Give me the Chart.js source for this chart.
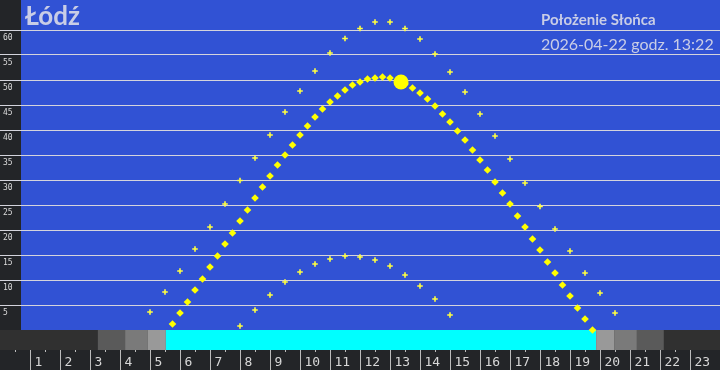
<!DOCTYPE html>
<html>
<head>
<meta charset="utf-8">
<script src="https://cdn.jsdelivr.net/npm/chart.js@4.4.1/dist/chart.umd.min.js"></script>
<style>
  html, body { margin: 0; padding: 0; background: #232528; }
  #wrap { position: relative; width: 720px; height: 370px; }
</style>
</head>
<body>
<div id="wrap"><canvas id="chart"></canvas></div>
<script>
// headline texts
const placeName = 'Łódź';
const headLine1 = 'Położenie Słońca';
const headLine2 = '2026-04-22 godz. 13:22';

// sun path for today, every 15 minutes (altitude in degrees)
const todayTimes = ['05:45','06:00','06:15','06:30','06:45','07:00','07:15','07:30','07:45',
  '08:00','08:15','08:30','08:45','09:00','09:15','09:30','09:45','10:00','10:15','10:30','10:45',
  '11:00','11:15','11:30','11:45','12:00','12:15','12:30','12:45','13:00','13:15','13:30','13:45',
  '14:00','14:15','14:30','14:45','15:00','15:15','15:30','15:45','16:00','16:15','16:30','16:45',
  '17:00','17:15','17:30','17:45','18:00','18:15','18:30','18:45','19:00','19:15','19:30','19:45'];
const todayAlt = [1.2,3.4,5.6,8.0,10.2,12.6,14.8,17.2,19.4,
  21.8,24.0,26.4,28.6,30.8,33.0,35.0,37.0,39.0,40.8,42.6,44.2,
  45.6,46.8,48.0,49.0,49.6,50.2,50.4,50.6,50.4,49.9,49.2,48.4,
  47.4,46.2,44.8,43.2,41.6,39.8,38.0,36.0,34.0,32.0,29.6,27.4,
  25.2,22.8,20.6,18.2,16.0,13.6,11.4,9.0,6.8,4.4,2.2,0.0];

// summer solstice path, every 30 minutes
const summerTimes = ['05:00','05:30','06:00','06:30','07:00','07:30','08:00','08:30','09:00','09:30',
  '10:00','10:30','11:00','11:30','12:00','12:30','13:00','13:30','14:00','14:30','15:00','15:30',
  '16:00','16:30','17:00','17:30','18:00','18:30','19:00','19:30','20:00','20:30'];
const summerAlt = [3.6,7.6,11.8,16.2,20.6,25.2,29.9,34.4,39.0,43.6,
  47.8,51.8,55.4,58.3,60.3,61.6,61.6,60.3,58.2,55.2,51.6,47.6,
  43.2,38.8,34.2,29.4,24.7,20.2,15.8,11.4,7.4,3.4];

// winter solstice path, every 30 minutes
const winterTimes = ['08:00','08:30','09:00','09:30','10:00','10:30','11:00','11:30','12:00','12:30',
  '13:00','13:30','14:00','14:30','15:00'];
const winterAlt = [0.8,4.0,7.0,9.6,11.6,13.2,14.2,14.8,14.6,14.0,12.8,11.0,8.8,6.2,3.0];

// current sun position
const nowTime = '13:22';
const nowAlt = 49.6;

// day / twilight band: boundaries in hours and colours between them
const bandEdges = [0, 3.26, 4.17, 4.93, 5.53, 19.87, 20.47, 21.23, 22.13, 24];
const bandColors = ['#303030','#5a5a5a','#7a7a7a','#999999','#00ffff','#999999','#7a7a7a','#5a5a5a','#303030'];

// axis ticks
const yTicks = [5,10,15,20,25,30,35,40,45,50,55,60];
const hourLabels = ['1','2','3','4','5','6','7','8','9','10','11','12','13','14','15','16','17','18','19','20','21','22','23'];

function toHours(t) {
  const [h, m] = t.split(':').map(Number);
  return h + m / 60;
}
function pts(times, alts) {
  return times.map((t, i) => ({ x: toHours(t), y: alts[i] }));
}

const skyPlugin = {
  id: 'sky',
  beforeDraw(chart) {
    const { ctx, chartArea: a } = chart;
    ctx.save();
    ctx.fillStyle = '#3152d4';
    ctx.fillRect(a.left, a.top, a.right - a.left, a.bottom - a.top);
    ctx.fillStyle = '#232528';
    ctx.fillRect(0, a.top, 21, a.bottom - a.top);
    ctx.restore();
  },
  beforeDatasetsDraw(chart) {
    const { ctx, chartArea: a, scales: { x } } = chart;
    ctx.save();
    for (let i = 0; i < bandColors.length; i++) {
      const x0 = x.getPixelForValue(bandEdges[i]);
      const x1 = x.getPixelForValue(bandEdges[i + 1]);
      ctx.fillStyle = bandColors[i];
      ctx.fillRect(x0, a.bottom, x1 - x0, 20);
    }
    // y labels under each grid line
    const y = chart.scales.y;
    ctx.fillStyle = '#dcdcdc';
    ctx.font = '8px "DejaVu Sans Mono"';
    ctx.textAlign = 'left';
    ctx.textBaseline = 'alphabetic';
    yTicks.forEach(v => ctx.fillText(String(v), 3, Math.round(y.getPixelForValue(v)) + 9.5));
    ctx.restore();
  },
  afterDraw(chart) {
    const { ctx, chartArea: a, scales: { x } } = chart;
    const top = a.bottom + 20;
    ctx.save();
    ctx.fillStyle = '#232528';
    ctx.fillRect(0, top, chart.width, chart.height - top);
    ctx.strokeStyle = '#bcbcbc';
    ctx.lineWidth = 1;
    ctx.fillStyle = '#d8d8d8';
    ctx.font = '13px "DejaVu Sans Mono"';
    ctx.textAlign = 'left';
    hourLabels.forEach(l => {
      const h = Number(l);
      const px = Math.round(x.getPixelForValue(h)) + 0.5;
      ctx.beginPath();
      ctx.moveTo(px, top);
      ctx.lineTo(px, chart.height);
      ctx.stroke();
      ctx.fillText(l, px + 4, top + 16);
      const hx = Math.round(x.getPixelForValue(h - 0.5)) + 0.5;
      ctx.beginPath();
      ctx.moveTo(hx, top);
      ctx.lineTo(hx, top + 2);
      ctx.stroke();
    });
    // headline
    ctx.fillStyle = '#c9cde6';
    ctx.font = 'bold 26px Lato';
    ctx.fillText(placeName, 25, 25);
    ctx.font = 'bold 15px Lato';
    ctx.fillText(headLine1, 541, 25);
    ctx.font = '16px Lato';
    ctx.fillText(headLine2, 541, 50);
    ctx.restore();
  }
};

new Chart(document.getElementById('chart'), {
  type: 'scatter',
  data: {
    datasets: [
      { data: pts(summerTimes, summerAlt), pointStyle: 'cross', pointRadius: 2.8, borderWidth: 1.6,
        borderColor: '#ffff40', backgroundColor: '#ffff40', clip: false },
      { data: pts(winterTimes, winterAlt), pointStyle: 'cross', pointRadius: 2.8, borderWidth: 1.6,
        borderColor: '#ffff40', backgroundColor: '#ffff40', clip: false },
      { data: pts(todayTimes, todayAlt), pointStyle: 'rectRot', pointRadius: 3.8, borderWidth: 0,
        backgroundColor: '#ffff00', clip: false },
      { data: [{ x: toHours(nowTime), y: nowAlt }], pointStyle: 'circle', pointRadius: 7.5, borderWidth: 0,
        backgroundColor: '#ffff00', clip: false }
    ]
  },
  options: {
    responsive: true,
    maintainAspectRatio: false,
    animation: false,
    events: [],
    layout: { autoPadding: false, padding: { left: 0, right: 0, top: 0, bottom: 40 } },
    plugins: { legend: { display: false }, tooltip: { enabled: false } },
    scales: {
      x: { type: 'linear', min: 0, max: 24, display: false },
      y: {
        type: 'linear', min: 0, max: 66,
        border: { display: false },
        ticks: { display: false, stepSize: 5 },
        grid: {
          drawTicks: false,
          lineWidth: 1,
          color: c => (c.tick.value > 0 && c.tick.value <= 60) ? '#d4d4dc' : 'rgba(0,0,0,0)'
        }
      }
    }
  },
  plugins: [skyPlugin]
});
</script>
</body>
</html>
